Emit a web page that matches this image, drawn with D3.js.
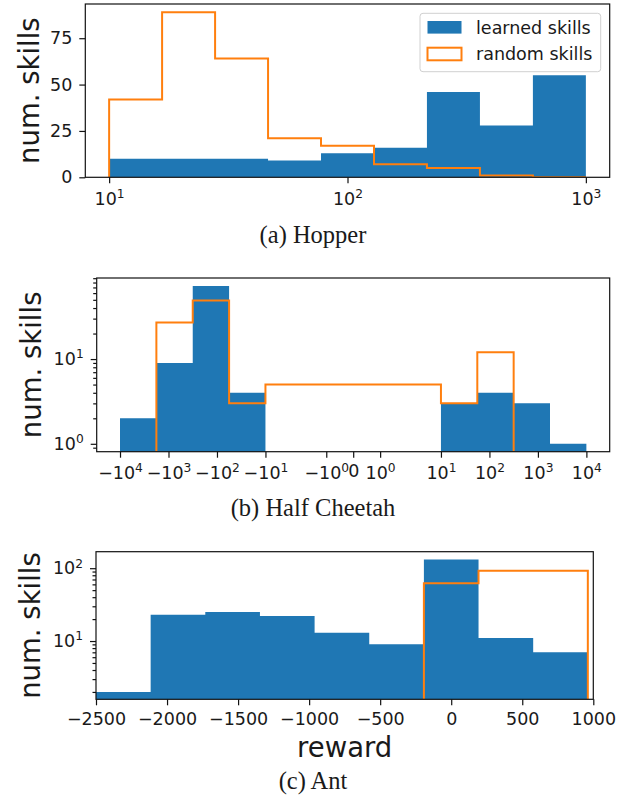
<!DOCTYPE html>
<html>
<head>
<meta charset="utf-8">
<script src="https://cdn.jsdelivr.net/npm/d3@7"></script>
<style>
  body { margin: 0; background: #fff; }
  text { font-family: "DejaVu Sans", sans-serif; fill: #1a1a1a; }
</style>
</head>
<body>
<svg id="fig" width="629" height="795"></svg>
<script>
// ---- data ----
const hopperEdges = [10, 16.68, 27.83, 46.42, 77.43, 129.2, 215.4, 359.4, 599.5, 1000];
const hopperLearned = [10, 10, 10, 9, 13, 16, 46, 28, 55];
const hopperRandom = [42, 89, 64, 21, 17, 7, 5, 1, 0];
const hopperTicks = [10, 100, 1000];
const hopperYTicks = [0, 25, 50, 75];

const cheetahEdges = [-10000, -1778, -316.2, -56.23, -10, 10, 56.23, 316.2, 1778, 10000];
const cheetahLearned = [2, 9, 73, 4, 0, 3, 4, 3, 1];
const cheetahRandom = [0, 27, 49, 3, 5, 3, 12, 0, 0];
const cheetahTicks = [-10000, -1000, -100, -10, -1, 0, 1, 10, 100, 1000, 10000];

const antEdges = [-2500, -2115.4, -1730.8, -1346.2, -961.5, -576.9, -192.3, 192.3, 576.9, 961.5];
const antLearned = [2, 23, 25, 22, 13, 9, 132, 11, 7];
const antRandom = [0, 0, 0, 0, 0, 0, 62, 92, 92];
const antTicks = [-2500, -2000, -1500, -1000, -500, 0, 500, 1000];

const logMajor = [1, 10, 100];
const logMinor = [0.9, 2, 3, 4, 5, 6, 7, 8, 9, 20, 30, 40, 50, 60, 70, 80, 90];

const seriesNames = ["learned skills", "random skills"];

const blue = "#1f77b4", orange = "#ff7f0e";
const tickFont = 17.5, labelFont = 27.5;

const svg = d3.select("#fig");

// matplotlib's symlog (linthresh 2, linscale 1)
const LT = 2, LS = 1 / (1 - 1 / 10);
function symlog(v) {
  const a = Math.abs(v);
  return a <= LT ? v * LS : Math.sign(v) * LT * (LS + Math.log10(a / LT));
}

function powLabel(v) {
  if (v === 0) return "0";
  return (v < 0 ? "\u2212" : "") + "10^" + Math.round(Math.log10(Math.abs(v)));
}

function styleAxis(g, sup, isX) {
  g.select(".domain").remove();
  g.attr("font-size", null).attr("font-family", null);
  g.selectAll(".tick line").attr("stroke", "#111").attr("stroke-width", 1.2);
  g.selectAll(".tick text").attr("font-size", tickFont).attr("fill", "#1a1a1a");
  if (!sup) return;
  g.selectAll(".tick text").each(function() {
    const t = d3.select(this), s = t.text();
    const i = s.indexOf("^");
    if (i < 0) return;
    t.text(null);
    if (isX) t.attr("y", +t.attr("y") + 2);
    t.append("tspan").text(s.slice(0, i));
    t.append("tspan").attr("dy", "-0.55em").attr("font-size", "0.7em").text(s.slice(i + 1));
  });
}

function panel(cfg) {
  const w = cfg.right - cfg.left, h = cfg.bottom - cfg.top;
  const g = svg.append("g").attr("transform", `translate(${cfg.left},${cfg.top})`);
  const id = "clip" + cfg.name;
  g.append("clipPath").attr("id", id).append("rect").attr("width", w).attr("height", h);

  const x = cfg.x.range([0, w]);
  const y = cfg.y.range([h, 0]);
  const xv = cfg.xf ? (v => x(cfg.xf(v))) : x;
  const base = cfg.log ? h + 40 : y(0);
  const yv = v => (v > 0 ? y(v) : base);

  function stepPoints(counts) {
    const pts = [[xv(cfg.edges[0]), base]];
    counts.forEach((c, i) => {
      pts.push([xv(cfg.edges[i]), yv(c)], [xv(cfg.edges[i + 1]), yv(c)]);
    });
    pts.push([xv(cfg.edges[cfg.edges.length - 1]), base]);
    return pts;
  }

  const plot = g.append("g").attr("clip-path", `url(#${id})`);
  plot.append("path")
    .attr("d", d3.line()(stepPoints(cfg.learned)) + "Z")
    .attr("fill", blue);
  plot.append("path")
    .attr("d", d3.line()(stepPoints(cfg.random)))
    .attr("fill", "none")
    .attr("stroke", orange)
    .attr("stroke-width", 2)
    .attr("stroke-linejoin", "miter");

  // axes
  const xa = d3.axisBottom(x).tickSize(6).tickPadding(7)
    .tickValues(cfg.xTicks.map(v => cfg.xf ? cfg.xf(v) : v))
    .tickFormat((d, i) => cfg.xFormat(cfg.xTicks[i]));
  g.append("g").attr("transform", `translate(0,${h})`).call(xa)
    .call(s => styleAxis(s, cfg.xSup, true));

  const ya = d3.axisLeft(y).tickSize(6).tickPadding(7)
    .tickValues(cfg.yTicks.filter(v => v >= y.domain()[0] && v <= y.domain()[1]))
    .tickFormat(cfg.yFormat);
  g.append("g").call(ya).call(s => styleAxis(s, cfg.log, false));

  if (cfg.log) {
    const ym = d3.axisLeft(y).tickSize(3.5)
      .tickValues(logMinor.filter(v => v >= y.domain()[0] && v <= y.domain()[1]))
      .tickFormat("");
    g.append("g").call(ym).call(s => styleAxis(s, false, false));
  }

  // spines on top
  g.append("rect").attr("width", w).attr("height", h)
    .attr("fill", "none").attr("stroke", "#111").attr("stroke-width", 1.2);

  // y label
  svg.append("text")
    .attr("transform", `translate(${cfg.ylabelX},${(cfg.top + cfg.bottom) / 2}) rotate(-90)`)
    .attr("text-anchor", "middle")
    .attr("font-size", labelFont)
    .text("num. skills");

  // caption
  svg.append("text")
    .attr("x", 313).attr("y", cfg.captionY)
    .attr("text-anchor", "middle")
    .attr("font-family", "'Liberation Serif', serif")
    .style("font-family", "'Liberation Serif', serif")
    .attr("font-size", 24.5)
    .text(cfg.caption);

  return g;
}

// (a) Hopper
const g1 = panel({
  name: "a", left: 85.3, right: 609.7, top: 4, bottom: 177.3,
  edges: hopperEdges, learned: hopperLearned, random: hopperRandom,
  x: d3.scaleLog().domain([10 ** 0.9, 10 ** 3.1]),
  y: d3.scaleLinear().domain([0, d3.max(hopperRandom.concat(hopperLearned)) * 1.05]),
  xTicks: hopperTicks, xFormat: powLabel, xSup: true,
  yTicks: hopperYTicks, yFormat: d => d, log: false,
  ylabelX: 38.5, caption: "(a) Hopper", captionY: 242.5
});

// legend
const leg = svg.append("g");
leg.append("rect").attr("x", 420).attr("y", 13.3).attr("width", 180.7).attr("height", 58.4)
  .attr("rx", 3).attr("fill", "#fff").attr("fill-opacity", 0.8)
  .attr("stroke", "#d0d0d0").attr("stroke-width", 1);
seriesNames.forEach((name, i) => {
  const yy = 21 + i * 26.7;
  leg.append("rect").attr("x", 427.5).attr("y", yy).attr("width", 34).attr("height", 12.6)
    .attr("fill", i === 0 ? blue : "none")
    .attr("stroke", i === 0 ? "none" : orange).attr("stroke-width", 2);
  leg.append("text").attr("x", 476).attr("y", yy + 12.6).attr("font-size", 17.5).text(name);
});

// (b) Half Cheetah
const cheetahSpan = symlog(10000) - symlog(-10000);
panel({
  name: "b", left: 96.7, right: 609.7, top: 278, bottom: 451.7,
  edges: cheetahEdges, learned: cheetahLearned, random: cheetahRandom,
  x: d3.scaleLinear().domain([symlog(-10000) - 0.05 * cheetahSpan, symlog(10000) + 0.05 * cheetahSpan]),
  xf: symlog,
  y: d3.scaleLog().domain([10 ** (-0.05 * Math.log10(73)), 10 ** (1.05 * Math.log10(73))]),
  xTicks: cheetahTicks, xFormat: powLabel, xSup: true,
  yTicks: logMajor, yFormat: powLabel, log: true,
  ylabelX: 41, caption: "(b) Half Cheetah", captionY: 515.5
});

// (c) Ant
panel({
  name: "c", left: 96, right: 593.3, top: 551.7, bottom: 699.3,
  edges: antEdges, learned: antLearned, random: antRandom,
  x: d3.scaleLinear().domain([-2500, 1000]),
  y: d3.scaleLog().domain([10 ** 0.2, 10 ** (1.05 * Math.log10(d3.max(antLearned)))]),
  xTicks: antTicks, xFormat: d => (d < 0 ? "\u2212" + Math.abs(d) : "" + d), xSup: false,
  yTicks: logMajor, yFormat: powLabel, log: true,
  ylabelX: 40, caption: "(c) Ant", captionY: 789
});

svg.append("text")
  .attr("x", (96 + 593.3) / 2).attr("y", 757)
  .attr("text-anchor", "middle")
  .attr("font-size", labelFont)
  .text("reward");
</script>
</body>
</html>
